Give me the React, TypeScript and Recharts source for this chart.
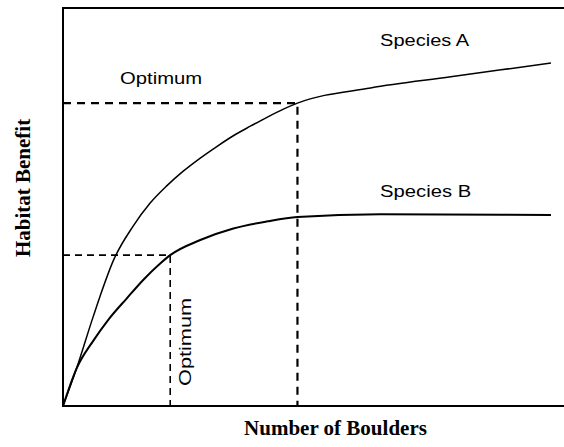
import React from 'react';
import { LineChart, Line, XAxis, YAxis, ReferenceDot } from 'recharts';

// Species A curve (boulders, habitat benefit)
const boulderA = [0, 2.7, 5.7, 7.4, 10, 14, 17.4, 20.7, 24, 27.4, 30.7, 34, 37.4, 40.8, 44, 46.8, 61.4, 77.4, 97.4];
const benefitA = [0, 9.4, 21.2, 27.6, 36.4, 45.2, 51, 55.3, 59, 62.3, 65.2, 67.9, 70.3, 72.6, 74.6, 76.1, 79.9, 82.7, 86.2];

// Species B curve
const boulderB = [0, 2.7, 6.1, 9.0, 12.7, 16.1, 19.4, 21.4, 27.4, 34, 40.8, 46.8, 63.4, 97.4];
const benefitB = [0, 9.4, 16.5, 21.6, 27.0, 31.8, 35.8, 37.9, 41.7, 44.6, 46.4, 47.5, 48.2, 48];

// Optimum points
const optimumA = { x: 46.8, y: 76.1 };
const optimumB = { x: 21.4, y: 37.9 };

// Axis ranges
const xMax = 101.2;
const yMax = 100;

// Plot frame (bottom, left and top sides; open on the right)
const frame = [
  { x: xMax, y: 0 },
  { x: 0, y: 0 },
  { x: 0, y: yMax },
  { x: xMax, y: yMax },
];

// Annotation labels
const labelOptimumTop = { x: 11.4, y: 80.9, text: 'Optimum' };
const labelSpeciesA = { x: 63.3, y: 90.4, text: 'Species A' };
const labelSpeciesB = { x: 63.3, y: 52.5, text: 'Species B' };
const labelOptimumRot = { x: 25.5, y: 16.1, text: 'Optimum' };

const xTitle = 'Number of Boulders';
const yTitle = 'Habitat Benefit';

const seriesA = boulderA.map((x, i) => ({ x, y: benefitA[i] }));
const seriesB = boulderB.map((x, i) => ({ x, y: benefitB[i] }));
const dashA = [
  { x: 0, y: optimumA.y },
  { x: optimumA.x, y: optimumA.y },
  { x: optimumA.x, y: 0 },
];
const dashB = [
  { x: 0, y: optimumB.y },
  { x: optimumB.x, y: optimumB.y },
  { x: optimumB.x, y: 0 },
];

const sans = 'Liberation Sans, Arial, sans-serif';
const serif = 'Liberation Serif, Times New Roman, serif';

const pt = (vb: any) => ({ cx: vb.x + (vb.width || 0) / 2, cy: vb.y + (vb.height || 0) / 2 });

const makeLabel = (text: string, len: number, rotate = false, anchor: 'start' | 'middle' = 'start') =>
  (props: any) => {
    const { cx, cy } = pt(props.viewBox);
    return (
      <text
        x={cx}
        y={cy}
        fontFamily={sans}
        fontSize={16}
        fill="#000"
        textAnchor={anchor}
        textLength={len}
        lengthAdjust="spacingAndGlyphs"
        transform={rotate ? `rotate(-90 ${cx} ${cy})` : undefined}
      >
        {text}
      </text>
    );
  };

const xTitleContent = (props: any) => {
  const { cx } = pt(props.viewBox);
  return (
    <text x={cx + 22} y={435} textAnchor="middle" fontFamily={serif} fontWeight="bold" fontSize={21} fill="#000">
      {xTitle}
    </text>
  );
};

const yTitleContent = (props: any) => {
  const { cy } = pt(props.viewBox);
  const x = 30;
  const y = cy - 19;
  return (
    <text x={x} y={y} textAnchor="middle" fontFamily={serif} fontWeight="bold" fontSize={21} fill="#000"
      transform={`rotate(-90 ${x} ${y})`}>
      {yTitle}
    </text>
  );
};

export default function App() {
  return (
    <div style={{ position: 'absolute', left: 0, top: 0, width: 564, height: 447, overflow: 'hidden', background: '#fff' }}>
      <LineChart width={570} height={447} margin={{ top: 8, right: 0, left: 63, bottom: 41 }}>
        <XAxis type="number" dataKey="x" domain={[0, xMax]} hide />
        <YAxis type="number" dataKey="y" domain={[0, yMax]} hide />
        <Line
          data={frame}
          dataKey="y"
          type="linear"
          stroke="#000"
          strokeWidth={2}
          dot={false}
          isAnimationActive={false}
        />
        <Line
          data={dashA}
          dataKey="y"
          type="linear"
          stroke="#000"
          strokeWidth={2.2}
          strokeDasharray="8 6"
          dot={false}
          isAnimationActive={false}
        />
        <Line
          data={dashB}
          dataKey="y"
          type="linear"
          stroke="#000"
          strokeWidth={1.6}
          strokeDasharray="7 5"
          dot={false}
          isAnimationActive={false}
        />
        <Line
          data={seriesA}
          dataKey="y"
          type="monotone"
          stroke="#000"
          strokeWidth={1.5}
          dot={false}
          isAnimationActive={false}
        />
        <Line
          data={seriesB}
          dataKey="y"
          type="monotone"
          stroke="#000"
          strokeWidth={2}
          dot={false}
          isAnimationActive={false}
        />
        <ReferenceDot x={50} y={0} r={1} fill="none" stroke="none" ifOverflow="visible"
          label={{ content: xTitleContent }} />
        <ReferenceDot x={0} y={50} r={1} fill="none" stroke="none" ifOverflow="visible"
          label={{ content: yTitleContent }} />
        <ReferenceDot x={labelOptimumTop.x} y={labelOptimumTop.y} r={1} fill="none" stroke="none"
          label={{ content: makeLabel(labelOptimumTop.text, 82) }} />
        <ReferenceDot x={labelSpeciesA.x} y={labelSpeciesA.y} r={1} fill="none" stroke="none"
          label={{ content: makeLabel(labelSpeciesA.text, 89) }} />
        <ReferenceDot x={labelSpeciesB.x} y={labelSpeciesB.y} r={1} fill="none" stroke="none"
          label={{ content: makeLabel(labelSpeciesB.text, 91) }} />
        <ReferenceDot x={labelOptimumRot.x} y={labelOptimumRot.y} r={1} fill="none" stroke="none"
          label={{ content: makeLabel(labelOptimumRot.text, 88, true, 'middle') }} />
      </LineChart>
    </div>
  );
}
